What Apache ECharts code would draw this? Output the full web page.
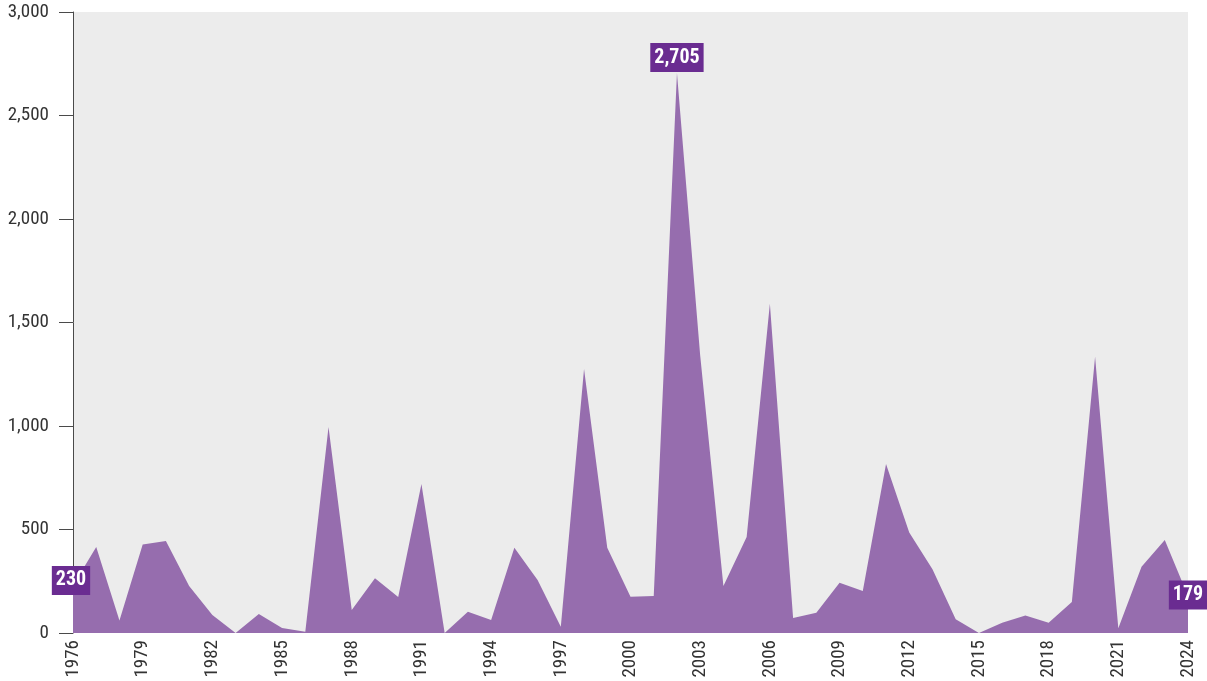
<!DOCTYPE html>
<html>
<head>
<meta charset="utf-8">
<script src="https://cdn.jsdelivr.net/npm/echarts@6/dist/echarts.min.js"></script>
<style>
  html, body { margin: 0; padding: 0; background: #ffffff; }
  #chart { width: 1207px; height: 681px; }
</style>
</head>
<body>
<div id="chart"></div>
<script>
// Yearly values, 1976–2024
const years = [];
for (let y = 1976; y <= 2024; y++) years.push(String(y));

const values = [
  230, 415, 60, 428, 444, 227, 87, 0, 92, 24,
  6, 995, 111, 265, 174, 720, 0, 103, 63, 412,
  256, 30, 1275, 412, 175, 179, 2705, 1340, 227, 464,
  1590, 72, 98, 243, 203, 816, 486, 308, 66, 0,
  50, 85, 50, 150, 1335, 23, 320, 449, 179
];

const yTicks = [0, 500, 1000, 1500, 2000, 2500, 3000];

const FONT = '"Roboto Condensed", sans-serif';
const AREA = '#966dae';
const BADGE = '#6a2c91';

const maxIdx = values.indexOf(Math.max(...values));
const lastIdx = values.length - 1;

function fmt(v) { return v.toLocaleString('en-US'); }

// Purple value badge used for the first, last and highest points
const badge = {
  show: true,
  color: '#ffffff',
  backgroundColor: BADGE,
  fontFamily: FONT,
  fontSize: 20,
  fontWeight: 'bold',
  lineHeight: 22,
  padding: [4, 4, 3, 4],
  formatter: p => fmt(p.value)
};

const seriesData = values.map((v, i) => {
  if (i === 0) {
    return { value: v, label: Object.assign({}, badge, { position: 'inside', offset: [-2, -5] }) };
  }
  if (i === lastIdx) {
    return { value: v, label: Object.assign({}, badge, { position: 'inside', offset: [0, -1] }) };
  }
  if (i === maxIdx) {
    return { value: v, label: Object.assign({}, badge, { position: 'top', distance: 1 }) };
  }
  return v;
});

const chart = echarts.init(document.getElementById('chart'));
chart.setOption({
  animation: false,
  backgroundColor: '#ffffff',
  grid: {
    left: 73, right: 19, top: 12, bottom: 48,
    show: true, backgroundColor: '#ececec', borderWidth: 0
  },
  xAxis: {
    type: 'category',
    data: years,
    boundaryGap: false,
    axisLine: { show: false },
    axisTick: { show: false },
    splitLine: { show: false },
    axisLabel: {
      interval: 2,
      rotate: 90,
      margin: 7,
      color: '#333333',
      fontFamily: FONT,
      fontSize: 19
    }
  },
  yAxis: {
    type: 'value',
    min: yTicks[0],
    max: yTicks[yTicks.length - 1],
    interval: 500,
    axisLine: { show: true, lineStyle: { color: '#4a4a4a', width: 1 } },
    axisTick: { show: true, length: 14, lineStyle: { color: '#4a4a4a' } },
    splitLine: { show: false },
    axisLabel: {
      margin: 24,
      color: '#333333',
      fontFamily: FONT,
      fontSize: 19,
      formatter: v => fmt(v)
    }
  },
  series: [{
    type: 'line',
    data: seriesData,
    symbol: 'circle',
    symbolSize: 0,
    showSymbol: true,
    showAllSymbol: true,
    label: { show: false },
    lineStyle: { width: 0, color: AREA },
    itemStyle: { color: AREA },
    areaStyle: { color: AREA, opacity: 1 },
    z: 2
  }]
});
</script>
</body>
</html>
